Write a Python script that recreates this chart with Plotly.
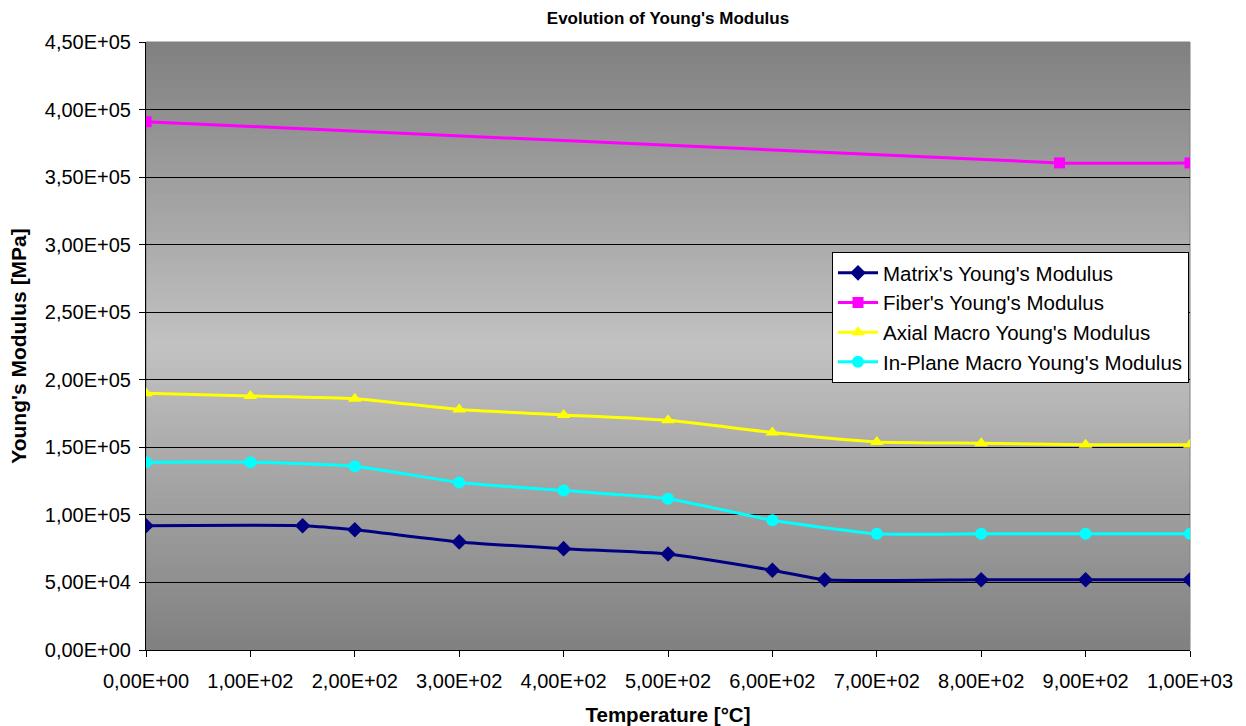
import plotly.graph_objects as go

# ---- data ----
matrix_t = [0, 150, 200, 300, 400, 500, 600, 650, 800, 900, 1000]
matrix_e = [92000, 92000, 89000, 80000, 75000, 71000, 59000, 52000, 52000, 52000, 52000]

fiber_t = [0, 875, 1000]
fiber_e = [391000, 360500, 360500]

macro_t = [0, 100, 200, 300, 400, 500, 600, 700, 800, 900, 1000]
axial_e = [190000, 188000, 186000, 178000, 174000, 170000, 161000, 154000, 153000, 152000, 152000]
inplane_e = [139000, 139000, 136000, 124000, 118000, 112000, 96000, 86000, 86000, 86000, 86000]

series_names = ["Matrix's Young's Modulus", "Fiber's Young's Modulus",
                "Axial Macro Young's Modulus", "In-Plane Macro Young's Modulus"]

x_tickvals = [0, 100, 200, 300, 400, 500, 600, 700, 800, 900, 1000]
x_ticktext = ["0,00E+00", "1,00E+02", "2,00E+02", "3,00E+02", "4,00E+02", "5,00E+02",
              "6,00E+02", "7,00E+02", "8,00E+02", "9,00E+02", "1,00E+03"]
y_tickvals = [0, 50000, 100000, 150000, 200000, 250000, 300000, 350000, 400000, 450000]
y_ticktext = ["0,00E+00", "5,00E+04", "1,00E+05", "1,50E+05", "2,00E+05", "2,50E+05",
              "3,00E+05", "3,50E+05", "4,00E+05", "4,50E+05"]

FONT = "Liberation Sans, Arial, sans-serif"

W, H = 1246, 726
PL, PR, PT, PB = 146, 1190, 42, 650

fig = go.Figure()
styles = [
    (matrix_t, matrix_e, "#000080", "diamond", 12),
    (fiber_t, fiber_e, "#FF00FF", "square", 11),
    (macro_t, axial_e, "#FFFF00", "triangle-up", 12),
    (macro_t, inplane_e, "#00FFFF", "circle", 12),
]
for i, (xs, ys, col, sym, sz) in enumerate(styles):
    fig.add_trace(go.Scatter(
        x=xs, y=ys, name=series_names[i], mode="lines+markers",
        line=dict(color=col, width=3, shape="spline", smoothing=0.5),
        marker=dict(color=col, symbol=sym, size=sz, line=dict(width=0)),
        legendgroup=str(i),
    ))

# gradient background (dark top -> light middle -> dark bottom)
shapes = []
n = 80
for k in range(n):
    t0 = k / n
    t1 = (k + 1) / n
    tm = (t0 + t1) / 2
    f = 1 - abs(2 * tm - 1)
    v = int(round(128 + (194 - 128) * f))
    c = f"rgb({v},{v},{v})"
    shapes.append(dict(type="rect", xref="x domain", yref="y domain",
                       x0=0, x1=1, y0=t0, y1=min(1, t1 + 0.002), layer="below",
                       line=dict(width=0), fillcolor=c))
shapes.append(dict(type="rect", xref="x domain", yref="y domain",
                   x0=0, x1=1, y0=0, y1=1, layer="below",
                   line=dict(width=1, color="#808080"), fillcolor="rgba(0,0,0,0)"))
fig.update_layout(shapes=shapes)

fig.update_layout(
    width=W, height=H,
    margin=dict(l=PL, r=W - PR, t=PT, b=H - PB),
    paper_bgcolor="white", plot_bgcolor="#a0a0a0",
    font=dict(family=FONT, color="black", size=19),
    title=dict(text="<b>Evolution of Young's Modulus</b>", x=(PL + PR) / 2 / W,
               xanchor="center", y=1 - 18 / H, yanchor="middle",
               font=dict(family=FONT, size=17, color="black")),
    showlegend=True,
    legend=dict(x=(832 - 146) / 1044, y=(650 - 252) / 608, xanchor="left", yanchor="top",
                bgcolor="white", bordercolor="black", borderwidth=1,
                font=dict(family=FONT, size=20.5, color="black"),
                itemwidth=40, tracegroupgap=0),
    xaxis=dict(range=[0, 1000], tickvals=x_tickvals, ticktext=x_ticktext, automargin=False,
               showgrid=False, zeroline=False, showline=True, linecolor="black", linewidth=1,
               ticks="outside", ticklen=6, tickcolor="black", ticklabelstandoff=7,
               tickfont=dict(family=FONT, size=20, color="black"),
               title=dict(text="<b>Temperature [°C]</b>", standoff=27,
                          font=dict(family=FONT, size=20.5, color="black"))),
    yaxis=dict(range=[0, 450000], tickvals=y_tickvals, ticktext=y_ticktext, automargin=False,
               showgrid=True, gridcolor="black", gridwidth=1, zeroline=False,
               showline=True, linecolor="black", linewidth=1,
               ticks="outside", ticklen=6, tickcolor="black", ticklabelstandoff=4,
               tickfont=dict(family=FONT, size=20, color="black"),
               title=dict(text="<b>Young's Modulus [MPa]</b>", standoff=12,
                          font=dict(family=FONT, size=21, color="black"))),
)

fig.write_html("out.html", config={"displayModeBar": False},
               post_script="document.body.style.margin='0';document.body.style.overflow='hidden';")
